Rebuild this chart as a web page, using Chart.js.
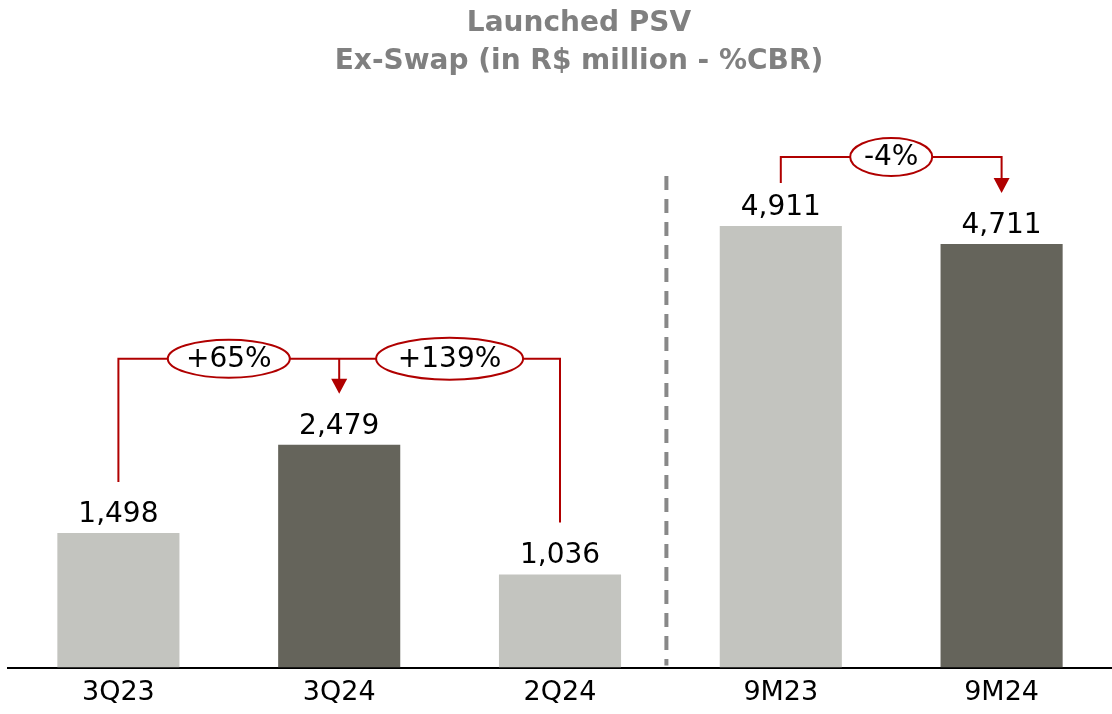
<!DOCTYPE html>
<html>
<head>
<meta charset="utf-8">
<script src="https://cdn.jsdelivr.net/npm/chart.js@4.4.1/dist/chart.umd.min.js"></script>
<style>
  body { margin: 0; background: #fff; }
  #cnvPsv { display: block; }
</style>
</head>
<body>
<canvas id="cnvPsv" width="1112" height="714"></canvas>
<script>
// data
var periods = ["3Q23", "3Q24", "2Q24", "9M23", "9M24"];
var psvValues = [1498, 2479, 1036, 4911, 4711];
var valueLabels = ["1,498", "2,479", "1,036", "4,911", "4,711"];
var changeLabels = ["+65%", "+139%", "-4%"];
var titleLines = ["Launched PSV", "Ex-Swap (in R$ million - %CBR)"];

var LIGHT = "#c3c4bf";
var DARK = "#65645b";
var RED = "#b00000";
var FONT = "'DejaVu Sans', Verdana, sans-serif";

function ellipse(ctx, cx, cy, w, h, text){
	ctx.beginPath();
	ctx.ellipse(cx, cy, w / 2, h / 2, 0, 0, Math.PI * 2);
	ctx.fillStyle = "#fff";
	ctx.fill();
	ctx.lineWidth = 2;
	ctx.strokeStyle = RED;
	ctx.stroke();
	ctx.fillStyle = "#000";
	ctx.font = "28px " + FONT;
	ctx.textAlign = "center";
	ctx.textBaseline = "middle";
	ctx.fillText(text, cx, cy + 1);
}

function arrowHead(ctx, x, tipY){
	ctx.beginPath();
	ctx.moveTo(x - 8, tipY - 15);
	ctx.lineTo(x + 8, tipY - 15);
	ctx.lineTo(x, tipY);
	ctx.closePath();
	ctx.fillStyle = RED;
	ctx.fill();
}

var extras = {
	id: "extras",
	afterDatasetsDraw: function(chart){
		var ctx = chart.ctx;
		var xs = chart.scales.x, ys = chart.scales.y;
		var px = function(i){ return xs.getPixelForValue(i); };
		var top = function(i){ return ys.getPixelForValue(psvValues[i]); };
		ctx.save();

		// title
		ctx.fillStyle = "#808080";
		ctx.font = "bold 28px " + FONT;
		ctx.textAlign = "center";
		ctx.textBaseline = "middle";
		ctx.fillText(titleLines[0], 579, 24);
		ctx.fillText(titleLines[1], 579, 62);

		// value labels
		ctx.fillStyle = "#000";
		ctx.font = "28px " + FONT;
		ctx.textBaseline = "alphabetic";
		for (var i = 0; i < psvValues.length; i++) {
			ctx.fillText(valueLabels[i], px(i), top(i) - 11);
		}

		// separator
		var sepX = (px(2) + px(3)) / 2 - 4;
		ctx.setLineDash([14, 9]);
		ctx.strokeStyle = "#888";
		ctx.lineWidth = 4;
		ctx.beginPath();
		ctx.moveTo(sepX, 176);
		ctx.lineTo(sepX, chart.chartArea.bottom - 2);
		ctx.stroke();
		ctx.setLineDash([]);

		// left bracket
		ctx.strokeStyle = RED;
		ctx.lineWidth = 2;
		var lvl = top(1) - 86;
		ctx.beginPath();
		ctx.moveTo(px(0), top(0) - 51);
		ctx.lineTo(px(0), lvl);
		ctx.lineTo(px(2), lvl);
		ctx.lineTo(px(2), top(2) - 52);
		ctx.moveTo(px(1), lvl);
		ctx.lineTo(px(1), top(1) - 60);
		ctx.stroke();
		arrowHead(ctx, px(1), top(1) - 51);
		ellipse(ctx, (px(0) + px(1)) / 2, lvl, 122, 38, changeLabels[0]);
		ellipse(ctx, (px(1) + px(2)) / 2, lvl, 147, 42, changeLabels[1]);

		// right bracket
		var lvl2 = top(3) - 69;
		ctx.strokeStyle = RED;
		ctx.lineWidth = 2;
		ctx.beginPath();
		ctx.moveTo(px(3), top(3) - 43);
		ctx.lineTo(px(3), lvl2);
		ctx.lineTo(px(4), lvl2);
		ctx.lineTo(px(4), top(4) - 60);
		ctx.stroke();
		arrowHead(ctx, px(4), top(4) - 51);
		ellipse(ctx, (px(3) + px(4)) / 2, lvl2, 82, 38, changeLabels[2]);

		ctx.restore();
	}
};

new Chart(document.getElementById("cnvPsv").getContext("2d"), {
	type: "bar",
	data: {
		labels: periods,
		datasets: [{
			data: psvValues,
			backgroundColor: [LIGHT, DARK, LIGHT, LIGHT, DARK],
			barPercentage: 0.553,
			categoryPercentage: 1
		}]
	},
	options: {
		responsive: false,
		animation: false,
		layout: { padding: { top: 128, left: 8, right: 0, bottom: -4 } },
		plugins: {
			legend: { display: false },
			title: { display: false },
			tooltip: { enabled: false }
		},
		scales: {
			x: {
				grid: { display: false, drawTicks: false },
				border: { color: "#000", width: 2 },
				ticks: { color: "#000", font: { family: FONT, size: 27 }, padding: 9 }
			},
			y: { display: false, min: 0, max: 6000 }
		}
	},
	plugins: [extras]
});
</script>
</body>
</html>
